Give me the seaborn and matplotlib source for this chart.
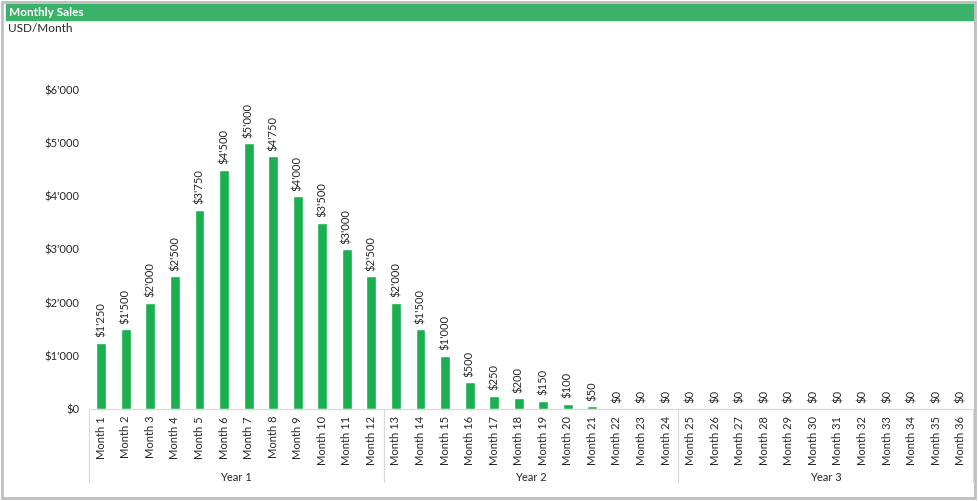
import matplotlib
matplotlib.use("Agg")
import matplotlib.pyplot as plt
import matplotlib.patches as mpatches
import seaborn as sns
import pandas as pd

# data
months = ["Month %d" % i for i in range(1, 37)]
sales = [1250, 1500, 2000, 2500, 3750, 4500, 5000, 4750, 4000, 3500, 3000, 2500,
         2000, 1500, 1000, 500, 250, 200, 150, 100, 50, 0, 0, 0,
         0, 0, 0, 0, 0, 0, 0, 0, 0, 0, 0, 0]
years = ["Year 1", "Year 2", "Year 3"]
yticks = [0, 1000, 2000, 3000, 4000, 5000, 6000]

bar_color = "#1BB04F"
head_color = "#3BB26A"
sep_color = "#D9D9D9"


def money(v):
    return "$" + format(int(v), ",").replace(",", "'")


sns.set_style("white")
plt.rcParams["font.family"] = ["Lato", "DejaVu Sans"]

df = pd.DataFrame({"month": months, "sales": sales})

fig = plt.figure(figsize=(9.79, 5.01), dpi=100)
ax = fig.add_axes([0.0909, 0.1836, 0.9030, 0.6368])

sns.barplot(data=df, x="month", y="sales", color=bar_color, width=0.4,
            saturation=1, ax=ax)

ax.set_xlim(-0.5, 35.5)
ax.set_ylim(0, 6000)
ax.set_yticks(yticks)
ax.set_yticklabels([money(v) for v in yticks], fontsize=8)
ax.tick_params(axis="y", length=0, pad=7)
ax.set_xticks(range(len(months)))
ax.set_xticklabels(months, rotation=90, fontsize=8, va="top")
ax.tick_params(axis="x", length=0, pad=5)
ax.set_xlabel("")
ax.set_ylabel("")
for s in ["left", "right", "top"]:
    ax.spines[s].set_visible(False)
ax.spines["bottom"].set_color(sep_color)

# value labels
for i, v in enumerate(sales):
    ax.annotate(money(v), (i, v), xytext=(0, 4), textcoords="offset points",
                rotation=90, ha="center", va="bottom", fontsize=8)

# year grouping below the axis
for k in range(4):
    xb = k * 12 - 0.5
    ax.plot([xb, xb], [0, -1380], color=sep_color, lw=0.8, clip_on=False)
for k, yname in enumerate(years):
    ax.text(k * 12 + 5.5, -1290, yname, ha="center", va="center", fontsize=8)

# header band and frame
fig.patches.append(mpatches.Rectangle((0.006, 0.961), 0.989, 0.032,
                                      transform=fig.transFigure, color=head_color))
fig.text(0.009, 0.976, "Monthly Sales", color="white", fontsize=8.5,
         fontweight="bold", va="center")
fig.text(0.008, 0.943, "USD/Month", fontsize=8.5, va="center")
fig.patches.append(mpatches.Rectangle((0.002, 0.006), 0.994, 0.99,
                                      transform=fig.transFigure, fill=False,
                                      edgecolor="#BFBFBF", lw=2))

fig.savefig("out.png", dpi=100)
